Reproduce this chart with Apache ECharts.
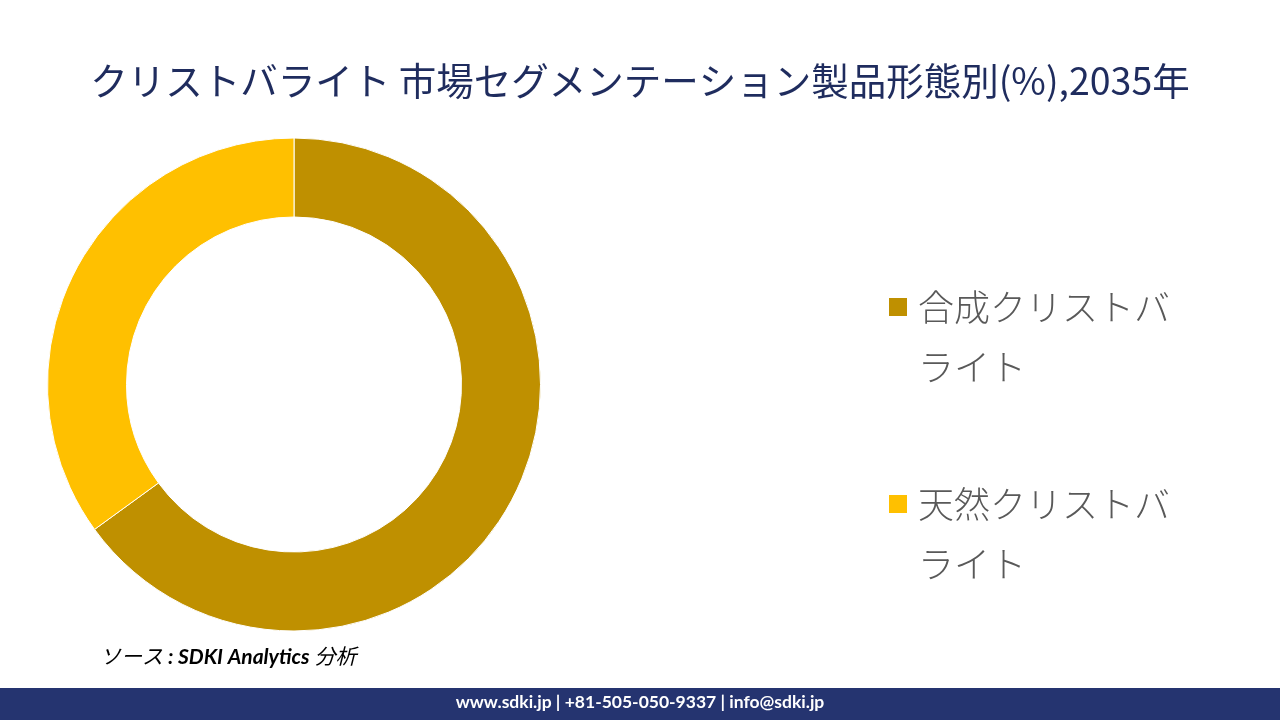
<!DOCTYPE html>
<html>
<head>
<meta charset="utf-8">
<script src="https://cdn.jsdelivr.net/npm/echarts@6/dist/echarts.min.js"></script>
<style>
  html, body { margin: 0; padding: 0; background: #fff; }
  #main { width: 1280px; height: 720px; }
</style>
</head>
<body>
<div id="main"></div>
<script>
// segments and their 2035 share (%)
const categories = ["合成クリストバライト", "天然クリストバライト"];
const shares = [65, 35];
const colors = ["#BF9000", "#FFC000"];

const chartDom = document.getElementById("main");
const myChart = echarts.init(chartDom);

const option = {
  backgroundColor: "#ffffff",
  animation: false,
  title: {
    text: "クリストバライト 市場セグメンテーション製品形態別(%),2035年",
    left: "center",
    top: 57,
    textStyle: {
      color: "#1F2C5E",
      fontSize: 37.5,
      fontWeight: "normal",
      fontFamily: "'Noto Sans CJK JP', sans-serif",
    },
  },
  legend: {
    orient: "vertical",
    left: 882,
    top: 212,
    itemWidth: 20,
    itemHeight: 20,
    itemGap: 17,
    icon: "rect",
    data: categories,
    // blank first line keeps the marker level with the first text line
    formatter: (name) => "\n" + name,
    textStyle: {
      color: "#595959",
      fontSize: 36,
      fontWeight: 300,
      fontFamily: "'Noto Sans CJK JP', sans-serif",
      lineHeight: 60,
      width: 265,
      overflow: "breakAll",
      padding: [0, 0, 0, 5],
    },
  },
  graphic: [
    {
      type: "rect",
      left: 0,
      top: 688,
      shape: { width: 1280, height: 32 },
      style: { fill: "#253470" },
      silent: true,
    },
    {
      type: "text",
      left: "center",
      top: 693,
      style: {
        text: "www.sdki.jp | +81-505-050-9337 | info@sdki.jp",
        fill: "#ffffff",
        font: "bold 17.5px Lato, 'Noto Sans', sans-serif",
      },
    },
    {
      type: "text",
      left: 100,
      top: 647,
      style: {
        text: "{a|ソース }{b|: SDKI Analytics}{a| 分析}",
        rich: {
          a: {
            fontSize: 21,
            fontStyle: "italic",
            fontFamily: "Lato, 'Noto Sans CJK JP', sans-serif",
            fill: "#000000",
          },
          b: {
            fontSize: 21,
            fontStyle: "italic",
            fontWeight: "bold",
            fontFamily: "Lato, 'Noto Sans CJK JP', sans-serif",
            fill: "#000000",
          },
        },
      },
    },
  ],
  series: [
    {
      type: "pie",
      center: [294, 384.5],
      radius: [167.5, 246.5],
      startAngle: 90,
      clockwise: true,
      label: { show: false },
      labelLine: { show: false },
      itemStyle: { borderColor: "#ffffff", borderWidth: 1 },
      emphasis: { disabled: true },
      data: categories.map((name, i) => ({
        name: name,
        value: shares[i],
        itemStyle: { color: colors[i] },
      })),
    },
  ],
};

myChart.setOption(option);
</script>
</body>
</html>
